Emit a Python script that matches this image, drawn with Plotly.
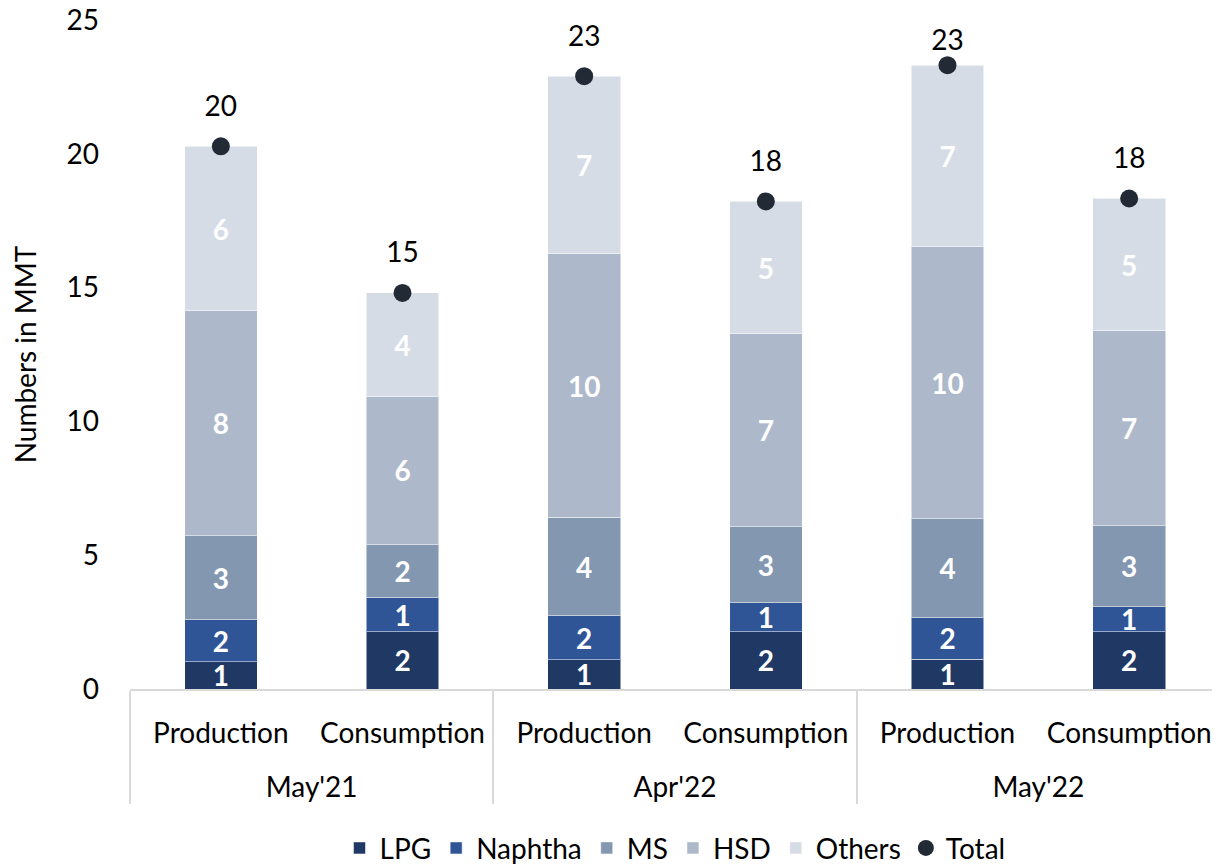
import plotly.graph_objects as go

periods = ["May'21", "May'21", "Apr'22", "Apr'22", "May'22", "May'22"]
kinds = ["Production", "Consumption"] * 3

lpg = [1.01, 2.14, 1.09, 2.14, 1.12, 2.14]
naphtha = [1.58, 1.27, 1.65, 1.08, 1.54, 0.93]
ms = [3.14, 1.99, 3.67, 2.85, 3.71, 3.04]
hsd = [8.40, 5.54, 9.86, 7.20, 10.16, 7.27]
others = [6.15, 3.86, 6.63, 4.95, 6.78, 4.95]

series = {
    "LPG": (lpg, "#203864"),
    "Naphtha": (naphtha, "#2F5597"),
    "MS": (ms, "#8497B0"),
    "HSD": (hsd, "#ADB9CA"),
    "Others": (others, "#D6DCE5"),
}

totals = [sum(v) for v in zip(lpg, naphtha, ms, hsd, others)]

font_family = "Lato, 'Open Sans', sans-serif"
fs = 28

# leading blank line pushes the period row further below the product row
x = [["<br>" + p for p in periods], kinds]

fig = go.Figure()
for name, (vals, color) in series.items():
    fig.add_trace(go.Bar(
        x=x,
        y=vals,
        name=name,
        marker=dict(color=color, line=dict(color="rgba(255,255,255,0.5)", width=1)),
        text=[f"{v:.0f}" for v in vals],
        textposition="inside",
        insidetextanchor="middle",
        textangle=0,
        constraintext="none",
        textfont=dict(color="white", size=fs, family=font_family, weight="bold"),
    ))

fig.add_trace(go.Scatter(
    x=x,
    y=totals,
    name="Total",
    mode="markers",
    marker=dict(color="#222A35", size=18),
))

# total labels: invisible marker sets how far the text sits above the dot
# (the last tall one is kept lower so it stays inside the chart, like excel does)
label_gap = [36, 36, 36, 36, 12, 36]
fig.add_trace(go.Scatter(
    x=x,
    y=totals,
    mode="markers+text",
    showlegend=False,
    hoverinfo="skip",
    marker=dict(size=label_gap, opacity=0),
    text=[f"{t:.0f}" for t in totals],
    textposition="top center",
    textfont=dict(color="black", size=fs, family=font_family),
    cliponaxis=False,
))

fig.update_layout(
    barmode="stack",
    bargap=0.6,
    width=1212,
    height=856,
    plot_bgcolor="white",
    paper_bgcolor="white",
    font=dict(family=font_family, size=fs, color="black"),
    margin=dict(l=122, r=0, t=12, b=175, autoexpand=False),
    showlegend=True,
    legend=dict(
        orientation="h",
        x=0.5,
        xanchor="center",
        y=-0.238,
        yanchor="middle",
        font=dict(size=fs),
        itemwidth=30,
        traceorder="normal",
    ),
)

fig.update_xaxes(
    type="multicategory",
    automargin=False,
    showline=True,
    linecolor="#D9D9D9",
    linewidth=2,
    showdividers=True,
    dividercolor="#D9D9D9",
    dividerwidth=2,
    ticks="",
    ticklabelstandoff=18,
    tickfont=dict(size=fs),
)

fig.update_yaxes(
    range=[0, 25],
    dtick=5,
    automargin=False,
    showgrid=False,
    zeroline=False,
    showline=False,
    ticks="",
    ticklabelstandoff=30,
    ticklabeloverflow="allow",
    tickfont=dict(size=fs),
    title=dict(text="Numbers in MMT", font=dict(size=fs), standoff=22),
)

fig.write_html("out.html")
